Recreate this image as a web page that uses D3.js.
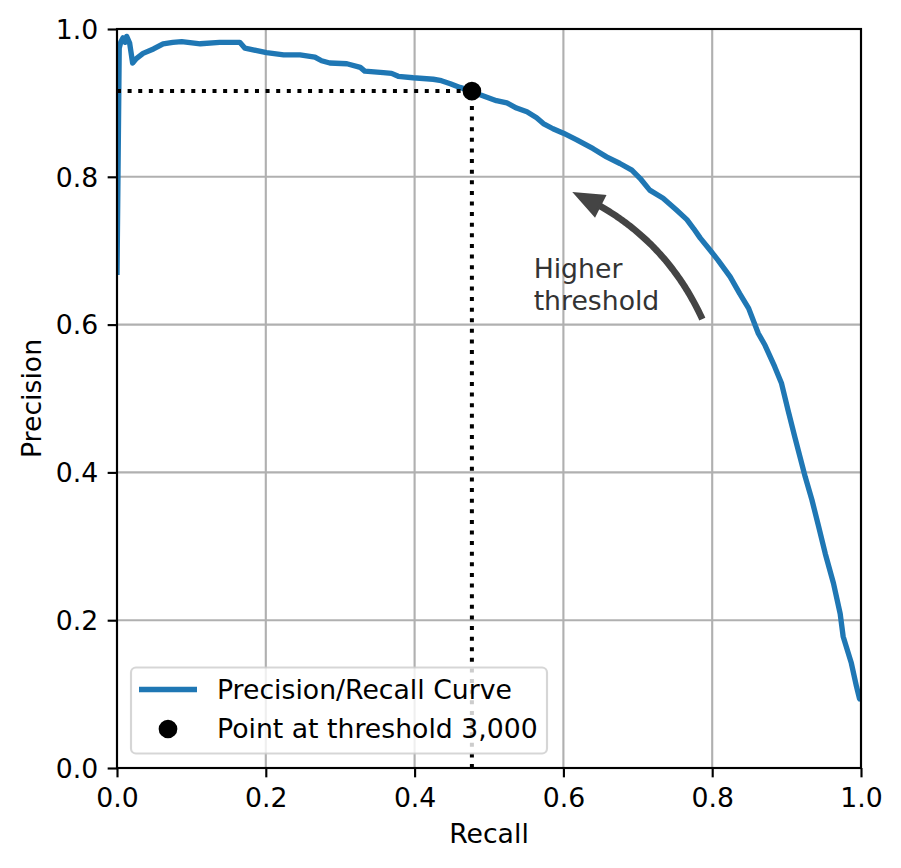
<!DOCTYPE html>
<html>
<head>
<meta charset="utf-8">
<script src="https://cdn.jsdelivr.net/npm/d3@7"></script>
<style>
  body { margin: 0; background: #fff; }
  text { font-family: "DejaVu Sans", sans-serif; }
</style>
</head>
<body>
<svg width="901" height="868"></svg>
<script>
// values
var recall = [0.000, 0.003, 0.005, 0.008, 0.011, 0.013, 0.017, 0.021, 0.026, 0.035,
  0.049, 0.062, 0.075, 0.087, 0.112, 0.138, 0.165, 0.172, 0.201, 0.224,
  0.246, 0.266, 0.275, 0.286, 0.309, 0.327, 0.333, 0.358, 0.369, 0.378,
  0.398, 0.425, 0.436, 0.448, 0.461, 0.477, 0.488, 0.510, 0.524, 0.537,
  0.551, 0.564, 0.573, 0.586, 0.600, 0.618, 0.640, 0.658, 0.676, 0.692,
  0.703, 0.716, 0.734, 0.752, 0.766, 0.775, 0.784, 0.797, 0.808, 0.824,
  0.837, 0.849, 0.862, 0.871, 0.884, 0.893, 0.902, 0.911, 0.918, 0.925,
  0.934, 0.943, 0.952, 0.963, 0.972, 0.976, 0.987, 0.994, 0.998, 1.000];
var precision = [0.667, 0.974, 0.982, 0.988, 0.982, 0.990, 0.981, 0.954, 0.960, 0.967,
  0.973, 0.980, 0.982, 0.983, 0.980, 0.982, 0.982, 0.974, 0.968, 0.965,
  0.965, 0.962, 0.957, 0.954, 0.953, 0.948, 0.943, 0.941, 0.940, 0.936,
  0.934, 0.932, 0.930, 0.926, 0.921, 0.916, 0.911, 0.903, 0.900, 0.893,
  0.888, 0.880, 0.872, 0.865, 0.859, 0.850, 0.838, 0.827, 0.818, 0.809,
  0.798, 0.782, 0.771, 0.755, 0.742, 0.730, 0.717, 0.701, 0.687, 0.665,
  0.642, 0.622, 0.588, 0.572, 0.543, 0.521, 0.484, 0.448, 0.421, 0.394,
  0.363, 0.327, 0.290, 0.250, 0.209, 0.178, 0.142, 0.110, 0.094, 0.092];

var thresholdRecall = 0.477, thresholdPrecision = 0.916;
var xTicks = [0, 0.2, 0.4, 0.6, 0.8, 1.0];
var yTicks = [0, 0.2, 0.4, 0.6, 0.8, 1.0];
var arrowFrom = [0.79, 0.60], arrowTo = [0.61, 0.78];
var noteText = ["Higher", "threshold"], notePos = [0.56, 0.62];
var legendLabels = ["Precision/Recall Curve", "Point at threshold 3,000"];

var svg = d3.select("svg"),
    plotLeft = 117, plotRight = 861, plotTop = 29, plotBottom = 768;
var fs = 26.7, pt = fs / 10;   // 10pt font, pixels per point

var x = d3.scaleLinear().domain([0, 1]).range([plotLeft, plotRight]);
var y = d3.scaleLinear().domain([0, 1]).range([plotBottom, plotTop]);

var curve = recall.map(function(r, i) { return {r: r, p: precision[i]}; });

svg.append("defs").append("clipPath").attr("id", "plotclip")
    .append("rect")
    .attr("x", plotLeft).attr("y", plotTop)
    .attr("width", plotRight - plotLeft).attr("height", plotBottom - plotTop);

// grid
var grid = svg.append("g");
grid.selectAll("line.gx").data(xTicks).enter().append("line")
    .attr("x1", d => x(d)).attr("x2", d => x(d))
    .attr("y1", plotTop).attr("y2", plotBottom)
    .attr("stroke", "#b0b0b0").attr("stroke-width", 0.8 * pt);
grid.selectAll("line.gy").data(yTicks).enter().append("line")
    .attr("x1", plotLeft).attr("x2", plotRight)
    .attr("y1", d => y(d)).attr("y2", d => y(d))
    .attr("stroke", "#b0b0b0").attr("stroke-width", 0.8 * pt);

var plot = svg.append("g").attr("clip-path", "url(#plotclip)");

// the curve
var line = d3.line().x(d => x(d.r)).y(d => y(d.p));
plot.append("path")
    .datum(curve)
    .attr("d", line)
    .attr("fill", "none")
    .attr("stroke", "#1f77b4")
    .attr("stroke-width", 2 * pt)
    .attr("stroke-linejoin", "round");

// dotted guides
plot.append("line")
    .attr("x1", x(thresholdRecall)).attr("x2", x(thresholdRecall))
    .attr("y1", y(0)).attr("y2", y(thresholdPrecision))
    .call(redraw_dotted);
plot.append("line")
    .attr("x1", x(0)).attr("x2", x(thresholdRecall))
    .attr("y1", y(thresholdPrecision)).attr("y2", y(thresholdPrecision))
    .call(redraw_dotted);

plot.append("circle")
    .attr("cx", x(thresholdRecall)).attr("cy", y(thresholdPrecision))
    .attr("r", 3 * pt)
    .attr("fill", "black").attr("stroke", "black").attr("stroke-width", pt);

function redraw_dotted(sel) {
    sel.attr("stroke", "black")
        .attr("stroke-width", 1.5 * pt)
        .attr("stroke-dasharray", (1.5 * pt) + "," + (1.5 * 1.65 * pt));
}

// curved arrow (arc3, rad=.2)
var p0 = [x(arrowFrom[0]), y(arrowFrom[1])],
    p2 = [x(arrowTo[0]), y(arrowTo[1])];
var dx = p2[0] - p0[0], dy = -(p2[1] - p0[1]);
var c = [(p0[0] + p2[0]) / 2 + 0.2 * dy, (p0[1] + p2[1]) / 2 + 0.2 * dx];
function bez(t) {
    var u = 1 - t;
    return [u * u * p0[0] + 2 * u * t * c[0] + t * t * p2[0],
            u * u * p0[1] + 2 * u * t * c[1] + t * t * p2[1]];
}
// shrink ends a little, find the base of the head
var tip = bez(0.975);
var headLen = 10 * pt, tBase = 0.975;
while (tBase > 0 && Math.hypot(bez(tBase)[0] - tip[0], bez(tBase)[1] - tip[1]) < headLen) tBase -= 0.002;
var base = bez(tBase);
var shaft = d3.range(0.03, tBase + 0.0001, 0.01).map(bez);
shaft.push(base);
svg.append("path")
    .attr("d", d3.line()(shaft))
    .attr("fill", "none").attr("stroke", "#444444").attr("stroke-width", 2.5 * pt);
var ux = (tip[0] - base[0]) / headLen, uy = (tip[1] - base[1]) / headLen;
var hw = 4 * pt;
svg.append("path")
    .attr("d", "M" + [base[0] - uy * hw, base[1] + ux * hw] +
               "L" + tip + "L" + [base[0] + uy * hw, base[1] - ux * hw] + "Z")
    .attr("fill", "#444444").attr("stroke", "#444444").attr("stroke-width", pt)
    .attr("stroke-linejoin", "miter");

svg.append("text")
    .attr("x", x(notePos[0])).attr("y", y(notePos[1]) - 1.2 * fs)
    .attr("fill", "#333333").attr("font-size", fs)
    .selectAll("tspan").data(noteText).enter().append("tspan")
    .attr("x", x(notePos[0])).attr("dy", (d, i) => i === 0 ? 0 : 1.2 * fs)
    .text(d => d);

// axes
var xAxis = d3.axisBottom(x).tickValues(xTicks).tickFormat(d3.format(".1f"))
    .tickSize(3.5 * pt).tickSizeOuter(0).tickPadding(10.4);
var yAxis = d3.axisLeft(y).tickValues(yTicks).tickFormat(d3.format(".1f"))
    .tickSize(3.5 * pt).tickSizeOuter(0).tickPadding(3.5 * pt);

var gx = svg.append("g").attr("transform", "translate(0," + plotBottom + ")").call(xAxis);
var gy = svg.append("g").attr("transform", "translate(" + plotLeft + ",0)").call(yAxis);
[gx, gy].forEach(function(g) {
    g.select(".domain").remove();
    g.selectAll(".tick line").attr("stroke", "black").attr("stroke-width", 0.8 * pt);
    g.selectAll(".tick text").attr("fill", "black").attr("font-size", fs)
        .attr("font-family", "DejaVu Sans, sans-serif");
});
gy.selectAll(".tick text").attr("dy", "0.35em");

svg.append("text")
    .attr("x", (plotLeft + plotRight) / 2).attr("y", 843)
    .attr("text-anchor", "middle").attr("font-size", fs)
    .text("Recall");
svg.append("text")
    .attr("transform", "translate(41," + (plotTop + plotBottom) / 2 + ") rotate(-90)")
    .attr("text-anchor", "middle").attr("font-size", fs)
    .text("Precision");

// spines
svg.append("rect")
    .attr("x", plotLeft).attr("y", plotTop)
    .attr("width", plotRight - plotLeft).attr("height", plotBottom - plotTop)
    .attr("fill", "none").attr("stroke", "black").attr("stroke-width", 0.8 * pt);

// legend
var legend = svg.append("g");
legend.append("rect")
    .attr("x", 131).attr("y", 667.5).attr("width", 416).attr("height", 86)
    .attr("rx", 5).attr("ry", 5)
    .attr("fill", "white").attr("fill-opacity", 0.8)
    .attr("stroke", "#cccccc").attr("stroke-opacity", 0.8).attr("stroke-width", 0.8 * pt);
legend.append("line")
    .attr("x1", 139).attr("x2", 197).attr("y1", 689.5).attr("y2", 689.5)
    .attr("stroke", "#1f77b4").attr("stroke-width", 2 * pt);
legend.append("circle")
    .attr("cx", 168).attr("cy", 729).attr("r", 3 * pt)
    .attr("fill", "black").attr("stroke", "black").attr("stroke-width", pt);
legend.selectAll("text.lab").data(legendLabels).enter().append("text")
    .attr("x", 217).attr("y", (d, i) => 698.5 + i * 39.5)
    .attr("font-size", fs)
    .text(d => d);
</script>
</body>
</html>
